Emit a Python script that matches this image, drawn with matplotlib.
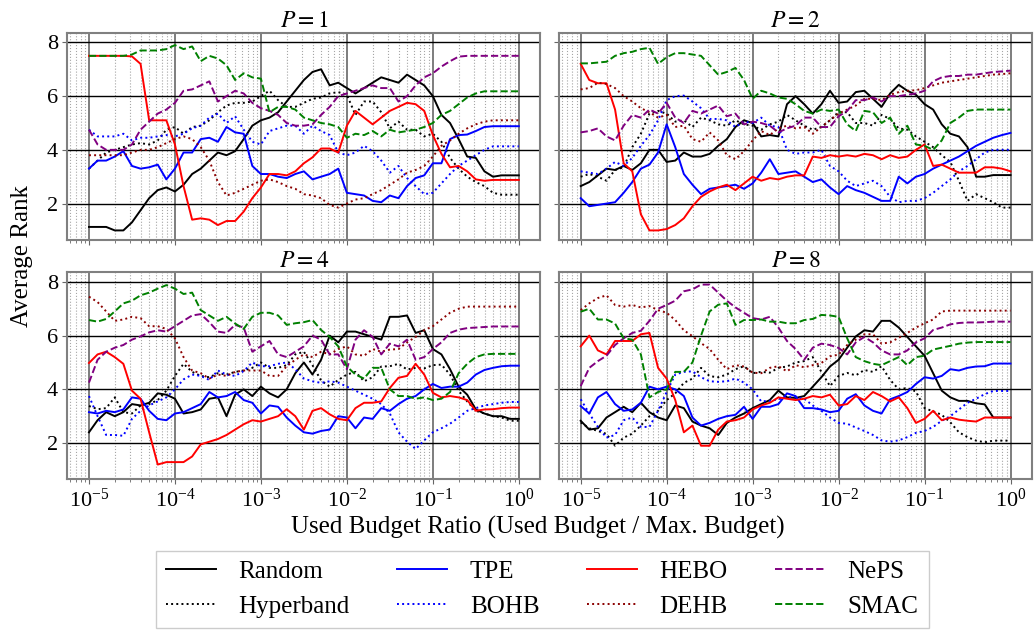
import numpy as np
import matplotlib
matplotlib.use("Agg")
from matplotlib import pyplot as plt

plt.rcParams['font.family'] = ['Liberation Serif', 'DejaVu Serif']
plt.rcParams['mathtext.fontset'] = 'stix'

# Budget ratio sampling grid (log10 from -5 to 0, step 0.1)
budget_ratio = np.logspace(-5, 0, 51)

methods = ['Random', 'Hyperband', 'TPE', 'BOHB', 'HEBO', 'DEHB', 'NePS', 'SMAC']
colors = ['black', 'black', 'blue', 'blue', 'red', 'darkred', 'purple', 'green']
styles = ['-', ':', '-', ':', '-', ':', '--', '--']
panel_titles = ['$P=1$', '$P=2$', '$P=4$', '$P=8$']

# ---- P = 1 ----
random_p1 = [1.13, 1.13, 1.13, 1.0, 1.0, 1.3, 1.75, 2.2, 2.5, 2.6, 2.45, 2.7, 3.1, 3.3, 3.6, 3.9, 3.8,
             3.95, 4.4, 4.9, 5.1, 5.2, 5.4, 5.8, 6.2, 6.6, 6.9, 7.0, 6.4, 6.5, 6.3, 6.1, 6.3, 6.5, 6.7,
             6.6, 6.5, 6.8, 6.6, 6.4, 6.0, 5.3, 5.0, 4.4, 3.75, 3.7, 3.2, 3.0, 3.05, 3.05, 3.05]
hyperband_p1 = [3.3, 3.6, 3.9, 4.0, 4.1, 4.2, 4.25, 4.2, 4.35, 4.75, 4.85, 4.6, 4.85, 4.9, 5.1, 5.4, 5.65,
                5.75, 5.75, 5.8, 6.0, 6.2, 5.85, 5.6, 5.6, 5.75, 5.9, 5.95, 6.1, 6.15, 6.05, 5.3, 5.8, 5.8,
                5.4, 4.8, 5.05, 4.75, 4.75, 4.5, 4.6, 4.3, 3.7, 3.3, 3.0, 2.8, 2.65, 2.4, 2.33, 2.33, 2.33]
tpe_p1 = [3.3, 3.6, 3.6, 3.75, 3.95, 3.4, 3.3, 3.35, 3.45, 2.9, 3.3, 3.9, 3.9, 4.4, 4.45, 4.3, 4.85,
          4.65, 4.6, 3.4, 3.1, 3.1, 3.0, 2.95, 3.1, 3.2, 2.9, 3.0, 3.1, 3.3, 2.4, 2.35, 2.3, 2.1, 2.05,
          2.3, 2.2, 2.65, 2.95, 3.05, 3.5, 3.5, 4.4, 4.55, 4.57, 4.7, 4.85, 4.88, 4.88, 4.88, 4.88]
bohb_p1 = [4.75, 4.5, 4.5, 4.5, 4.6, 4.35, 4.45, 4.45, 4.5, 4.55, 4.5, 4.6, 4.8, 4.9, 5.2, 5.35, 5.0,
           5.25, 4.75, 4.3, 4.2, 4.7, 4.8, 4.9, 4.9, 4.6, 4.9, 4.7, 4.55, 3.9, 3.8, 3.9, 4.15, 3.95,
           3.6, 3.15, 3.4, 2.95, 2.65, 2.35, 2.4, 2.75, 3.1, 3.4, 3.6, 3.8, 4.0, 4.13, 4.13, 4.13, 4.13]
hebo_p1 = [7.5, 7.5, 7.5, 7.5, 7.5, 7.48, 7.2, 5.1, 5.1, 5.1, 4.2, 2.65, 1.4, 1.45, 1.4, 1.2, 1.35,
           1.35, 1.7, 2.2, 2.6, 3.1, 3.1, 3.05, 3.2, 3.5, 3.72, 4.05, 4.05, 3.9, 4.9, 5.45, 5.2, 4.95,
           5.2, 5.45, 5.6, 5.75, 5.7, 5.45, 4.55, 3.85, 3.35, 3.4, 3.2, 2.9, 2.85, 2.88, 2.88, 2.88, 2.88]
dehb_p1 = [3.8, 3.8, 3.8, 3.8, 3.8, 3.9, 4.0, 4.0, 4.1, 4.25, 4.4, 4.5, 4.4, 4.1, 3.6, 2.8, 2.3,
           2.4, 2.55, 2.7, 2.85, 2.9, 2.8, 2.65, 2.55, 2.35, 2.3, 2.2, 1.95, 1.85, 2.0, 2.15, 2.2, 2.35,
           2.5, 2.7, 2.9, 3.15, 3.25, 3.4, 3.75, 4.15, 4.35, 4.6, 4.8, 4.95, 5.05, 5.1, 5.1, 5.1, 5.1]
neps_p1 = [4.75, 4.2, 4.0, 4.0, 4.0, 4.2, 4.75, 5.05, 5.35, 5.5, 5.75, 6.2, 6.25, 6.4, 6.55, 5.8, 6.0,
           6.2, 6.1, 5.75, 5.55, 5.45, 5.3, 5.0, 4.9, 4.9, 4.95, 5.3, 5.6, 6.0, 6.1, 6.2, 6.3, 6.4,
           6.3, 6.3, 5.8, 6.0, 6.4, 6.7, 6.85, 7.1, 7.3, 7.47, 7.5, 7.5, 7.5, 7.5, 7.5, 7.5, 7.5]
smac_p1 = [7.5, 7.5, 7.5, 7.5, 7.5, 7.55, 7.7, 7.7, 7.7, 7.75, 7.9, 7.75, 7.85, 7.3, 7.5, 7.4, 7.15,
           6.6, 6.85, 6.7, 6.65, 5.4, 5.6, 5.6, 5.5, 5.2, 5.1, 5.0, 4.95, 4.85, 4.45, 4.6, 4.55, 4.7,
           4.5, 4.75, 4.65, 4.7, 4.75, 4.85, 5.0, 5.3, 5.45, 5.7, 5.95, 6.1, 6.18, 6.18, 6.18, 6.18, 6.18]

# ---- P = 2 ----
random_p2 = [2.65, 2.8, 3.05, 3.3, 3.25, 3.4, 3.25, 3.5, 4.0, 4.0, 3.55, 3.6, 3.9, 3.75, 3.75, 3.85, 4.15,
             4.4, 4.85, 5.1, 5.0, 4.5, 4.55, 4.5, 5.7, 6.0, 5.7, 5.35, 5.7, 6.2, 5.75, 5.8, 6.15, 6.2,
             5.9, 5.6, 6.1, 6.42, 6.2, 6.05, 5.7, 5.5, 4.95, 4.6, 4.5, 4.1, 3.0, 3.0, 3.06, 3.06, 3.06]
hyperband_p2 = [3.0, 3.1, 3.0, 2.85, 3.25, 3.35, 4.1, 4.6, 5.35, 5.45, 5.35, 5.05, 5.1, 4.85, 5.2, 5.1, 4.95,
                4.9, 5.1, 4.95, 4.9, 4.75, 4.95, 5.05, 5.3, 5.1, 4.9, 4.75, 4.85, 5.1, 5.4, 5.4, 5.0, 5.0,
                4.9, 5.3, 5.15, 4.8, 4.75, 4.5, 4.3, 4.1, 3.8, 3.55, 2.85, 2.1, 2.35, 2.2, 2.05, 1.85, 1.85]
tpe_p2 = [2.2, 1.9, 1.95, 2.0, 2.05, 2.4, 2.8, 3.3, 3.45, 3.9, 4.95, 4.1, 3.1, 2.7, 2.35, 2.55, 2.6,
          2.65, 2.7, 2.55, 2.75, 3.15, 3.65, 3.1, 3.15, 3.2, 3.0, 2.8, 2.9, 2.6, 2.35, 2.65, 2.5, 2.4,
          2.25, 2.1, 2.1, 3.0, 2.75, 3.0, 3.1, 3.3, 3.45, 3.6, 3.75, 3.95, 4.15, 4.3, 4.45, 4.55, 4.63]
bohb_p2 = [3.2, 3.15, 3.1, 3.3, 3.55, 3.4, 3.7, 4.15, 4.55, 5.1, 5.85, 6.0, 6.02, 5.8, 5.55, 5.15, 5.15,
           5.1, 4.85, 5.05, 5.0, 5.2, 4.9, 4.85, 4.0, 3.85, 3.9, 3.9, 4.0, 3.4, 3.2, 2.85, 2.65, 2.75,
           2.85, 2.65, 2.25, 2.05, 2.1, 2.1, 2.2, 2.4, 2.65, 2.9, 3.2, 3.4, 3.65, 3.9, 4.0, 4.0, 4.0]
hebo_p2 = [7.2, 6.6, 6.48, 6.48, 5.5, 3.5, 3.2, 1.6, 1.0, 1.0, 1.05, 1.2, 1.45, 1.9, 2.25, 2.45, 2.6,
           2.7, 2.5, 2.75, 3.0, 2.85, 2.95, 2.9, 3.0, 3.05, 3.05, 3.75, 3.7, 3.8, 3.75, 3.8, 3.75, 3.85,
           3.8, 3.65, 3.8, 3.7, 3.75, 4.0, 4.2, 3.4, 3.45, 3.3, 3.15, 3.15, 3.15, 3.35, 3.35, 3.3, 3.2]
dehb_p2 = [6.25, 6.3, 6.5, 6.45, 6.3, 6.0, 5.8, 5.55, 5.4, 5.2, 5.3, 4.85, 4.9, 4.4, 4.3, 4.65, 4.35,
           3.8, 3.65, 3.95, 4.35, 4.7, 4.55, 4.8, 4.9, 4.8, 4.85, 4.6, 4.85, 5.1, 5.35, 5.5, 5.65, 5.9,
           5.9, 5.85, 6.05, 6.15, 6.2, 6.22, 6.3, 6.4, 6.5, 6.55, 6.6, 6.65, 6.7, 6.75, 6.8, 6.82, 6.85]
neps_p2 = [4.65, 4.7, 4.8, 4.5, 4.35, 4.9, 5.3, 5.2, 5.5, 5.35, 5.75, 5.2, 5.0, 5.45, 5.35, 5.5, 5.65,
           5.25, 5.35, 4.95, 5.05, 5.0, 4.9, 4.65, 4.8, 4.9, 5.2, 5.2, 4.85, 4.85, 5.25, 5.45, 5.85, 5.85,
           5.95, 5.8, 6.0, 6.0, 6.05, 6.1, 6.2, 6.55, 6.7, 6.75, 6.75, 6.8, 6.8, 6.85, 6.9, 6.92, 6.95]
smac_p2 = [7.22, 7.22, 7.25, 7.28, 7.5, 7.6, 7.65, 7.75, 7.8, 7.2, 7.45, 7.6, 7.6, 7.55, 7.5, 7.15, 6.8,
           6.9, 7.05, 6.6, 5.9, 6.2, 6.1, 5.95, 5.9, 5.7, 5.45, 5.35, 5.5, 5.45, 5.5, 4.95, 4.7, 5.45,
           5.4, 5.0, 5.2, 4.6, 4.9, 4.2, 4.15, 4.0, 4.35, 5.0, 5.2, 5.45, 5.5, 5.5, 5.5, 5.5, 5.5]

# ---- P = 4 ----
random_p4 = [2.4, 2.85, 3.15, 3.0, 3.15, 3.45, 3.4, 3.5, 3.85, 3.8, 3.65, 3.1, 3.15, 3.25, 3.65, 3.7, 3.0,
             3.8, 4.0, 3.75, 4.1, 3.85, 3.7, 4.0, 4.6, 5.0, 4.55, 5.1, 6.0, 5.75, 6.15, 6.15, 6.05, 5.95,
             5.85, 6.7, 6.7, 6.75, 6.1, 6.2, 5.5, 5.3, 4.75, 4.1, 3.8, 3.25, 3.1, 3.0, 3.0, 2.9, 2.9]
hyperband_p4 = [3.38, 3.26, 3.3, 3.7, 3.15, 3.1, 3.4, 3.45, 3.6, 3.95, 4.5, 4.95, 4.65, 4.5, 4.45, 4.6, 4.55,
                4.65, 4.7, 4.8, 5.0, 4.8, 4.8, 4.9, 5.3, 5.4, 4.9, 4.33, 4.1, 4.35, 4.55, 4.65, 4.3, 4.45,
                4.85, 4.86, 4.95, 4.74, 4.8, 4.78, 4.9, 4.92, 4.55, 3.95, 3.55, 3.2, 3.1, 3.0, 2.95, 2.83, 2.83]
tpe_p4 = [3.15, 3.1, 3.2, 3.15, 3.25, 3.7, 3.65, 3.2, 2.9, 2.85, 3.1, 3.15, 3.3, 3.45, 3.9, 3.7, 3.75,
          3.9, 3.6, 3.5, 3.1, 3.4, 3.35, 2.95, 2.65, 2.4, 2.35, 2.45, 2.5, 3.0, 2.95, 2.55, 2.95, 2.9,
          3.3, 3.2, 3.45, 3.65, 3.75, 4.0, 4.2, 4.05, 4.1, 4.1, 4.25, 4.55, 4.72, 4.8, 4.86, 4.88, 4.88]
bohb_p4 = [3.75, 3.0, 2.3, 2.3, 2.27, 2.9, 3.2, 3.4, 3.55, 3.7, 4.0, 4.37, 4.55, 4.5, 4.35, 4.7, 4.55,
           4.5, 4.68, 5.0, 4.86, 4.86, 4.95, 5.0, 4.75, 4.4, 4.3, 4.24, 4.3, 4.25, 4.1, 3.95, 3.8, 3.65,
           3.45, 3.1, 2.4, 2.05, 1.78, 2.1, 2.4, 2.55, 2.72, 2.95, 3.2, 3.3, 3.4, 3.45, 3.5, 3.53, 3.53]
hebo_p4 = [4.98, 5.3, 5.4, 5.2, 4.95, 3.95, 3.65, 2.4, 1.2, 1.29, 1.29, 1.29, 1.5, 1.95, 2.05, 2.15, 2.3,
           2.5, 2.7, 2.85, 2.8, 2.9, 3.0, 3.26, 3.0, 2.5, 3.2, 3.3, 3.07, 2.9, 2.85, 3.3, 3.5, 3.5,
           3.55, 4.05, 4.43, 4.5, 4.95, 4.55, 3.87, 3.7, 3.75, 3.7, 3.6, 3.2, 3.25, 3.26, 3.3, 3.32, 3.32]
dehb_p4 = [7.45, 7.25, 6.9, 6.55, 6.6, 6.7, 6.65, 6.35, 6.35, 6.25, 5.9, 5.2, 4.7, 4.6, 4.4, 4.55, 4.5,
           4.65, 4.7, 4.7, 4.7, 4.5, 4.5, 4.86, 5.1, 5.3, 5.2, 5.4, 5.3, 5.5, 5.6, 5.3, 5.25, 5.5,
           5.4, 5.48, 5.5, 5.75, 5.95, 6.2, 6.35, 6.6, 6.85, 7.0, 7.08, 7.08, 7.08, 7.08, 7.08, 7.08, 7.08]
neps_p4 = [4.25, 5.1, 5.4, 5.55, 5.65, 5.85, 5.97, 6.12, 6.2, 6.15, 6.35, 6.55, 6.75, 6.8, 6.5, 6.15, 6.1,
           6.4, 6.3, 5.4, 5.6, 5.8, 5.3, 5.2, 5.4, 5.6, 6.0, 5.85, 5.3, 5.3, 4.75, 5.85, 6.2, 5.95,
           5.3, 5.7, 5.6, 5.85, 5.1, 5.2, 5.5, 5.75, 6.1, 6.22, 6.28, 6.3, 6.32, 6.34, 6.34, 6.34, 6.34]
smac_p4 = [6.58, 6.52, 6.62, 6.9, 7.2, 7.3, 7.5, 7.6, 7.75, 7.88, 7.75, 7.55, 7.6, 6.95, 6.75, 6.55, 6.7,
           6.45, 6.25, 6.7, 6.85, 6.85, 6.75, 6.4, 6.46, 6.5, 6.58, 6.21, 5.95, 5.6, 4.85, 4.55, 4.4, 4.8,
           4.8, 4.0, 3.75, 3.75, 3.65, 3.7, 3.6, 3.65, 3.9, 4.6, 4.95, 5.2, 5.3, 5.32, 5.32, 5.32, 5.32]

# ---- P = 8 ----
random_p8 = [2.83, 2.5, 2.55, 2.95, 3.15, 3.35, 3.15, 3.5, 3.15, 2.95, 2.85, 3.4, 3.3, 2.8, 2.65, 2.55, 2.3,
             2.75, 2.95, 3.1, 3.3, 3.45, 3.6, 3.95, 3.7, 3.68, 3.75, 4.1, 4.45, 4.85, 5.1, 5.55, 5.97, 6.2,
             6.15, 6.55, 6.55, 6.3, 5.95, 5.6, 5.25, 4.6, 3.95, 3.7, 3.57, 3.57, 3.48, 3.44, 2.95, 2.95, 2.95]
hyperband_p8 = [2.77, 2.55, 2.45, 2.34, 1.9, 2.2, 2.35, 2.65, 3.0, 3.2, 3.6, 3.85, 4.24, 4.4, 4.8, 4.49, 4.45,
                4.55, 4.75, 4.86, 4.6, 4.65, 4.62, 4.8, 4.85, 5.0, 5.05, 5.2, 4.65, 4.12, 4.5, 4.61, 4.52, 4.72,
                4.65, 4.86, 4.35, 4.0, 4.05, 3.92, 3.3, 3.18, 3.05, 2.77, 2.4, 2.22, 2.09, 2.03, 2.09, 2.09, 2.09]
tpe_p8 = [3.38, 3.1, 3.7, 3.9, 3.45, 3.2, 3.25, 3.5, 4.1, 4.0, 4.1, 4.0, 3.75, 2.95, 2.65, 2.75, 2.9,
          3.0, 3.05, 3.35, 2.9, 3.35, 3.35, 3.45, 3.85, 3.75, 3.3, 3.3, 3.25, 3.15, 3.2, 3.65, 3.82, 3.4,
          3.2, 3.1, 3.63, 3.75, 3.9, 4.2, 4.45, 4.4, 4.5, 4.75, 4.7, 4.8, 4.85, 4.86, 4.96, 4.96, 4.96]
bohb_p8 = [3.63, 3.1, 2.6, 2.2, 2.3, 2.85, 2.95, 2.6, 2.6, 3.2, 3.9, 4.55, 4.65, 4.67, 4.45, 4.3, 4.28,
           4.3, 4.4, 4.25, 4.0, 3.55, 3.57, 3.63, 3.7, 3.72, 3.65, 3.4, 3.2, 2.95, 2.75, 2.72, 2.58, 2.45,
           2.3, 2.1, 2.05, 2.1, 2.22, 2.38, 2.45, 2.6, 2.83, 3.0, 3.25, 3.5, 3.65, 3.82, 3.94, 3.94, 3.94]
hebo_p8 = [5.6, 6.0, 5.45, 5.3, 5.8, 5.8, 5.8, 6.05, 6.1, 4.8, 4.4, 3.6, 2.4, 2.65, 1.9, 1.9, 2.5,
           2.8, 2.85, 2.95, 3.25, 3.4, 3.5, 3.7, 3.65, 3.6, 3.65, 3.75, 3.7, 3.8, 3.4, 3.45, 3.75, 3.6,
           3.9, 3.75, 3.55, 3.7, 3.3, 2.75, 2.9, 3.2, 2.85, 2.95, 2.87, 2.83, 2.8, 2.95, 2.95, 2.95, 2.95]
dehb_p8 = [6.95, 7.2, 7.4, 7.5, 7.14, 7.08, 7.14, 7.05, 7.1, 6.95, 6.85, 6.58, 6.2, 5.98, 5.72, 5.5, 5.1,
           4.75, 4.9, 4.85, 4.62, 4.6, 4.8, 4.86, 4.67, 4.9, 4.82, 4.9, 4.98, 5.23, 5.29, 5.65, 5.85, 6.05,
           6.05, 5.7, 5.75, 5.92, 6.1, 6.3, 6.46, 6.6, 6.9, 6.93, 6.93, 6.93, 6.93, 6.93, 6.93, 6.93, 6.93]
neps_p8 = [4.12, 4.8, 5.05, 5.25, 5.65, 5.9, 6.1, 6.18, 6.55, 7.0, 7.14, 7.3, 7.65, 7.72, 7.9, 7.9, 7.6,
           7.3, 7.05, 6.85, 6.65, 6.6, 6.7, 6.3, 5.8, 5.5, 5.1, 5.55, 5.7, 5.65, 5.54, 5.3, 5.75, 5.95,
           5.75, 5.45, 5.3, 5.3, 5.45, 5.75, 5.9, 6.21, 6.3, 6.42, 6.47, 6.49, 6.49, 6.5, 6.52, 6.52, 6.52]
smac_p8 = [6.89, 7.0, 6.6, 6.6, 6.45, 5.9, 5.85, 5.3, 3.7, 3.9, 4.0, 4.65, 4.65, 5.0, 6.0, 6.9, 7.15,
           7.2, 6.4, 6.58, 6.58, 6.6, 6.52, 6.52, 6.46, 6.46, 6.58, 6.62, 6.77, 6.75, 6.7, 5.9, 5.2, 5.05,
           4.95, 4.9, 5.05, 5.2, 4.9, 5.2, 5.25, 5.48, 5.55, 5.62, 5.7, 5.74, 5.76, 5.76, 5.76, 5.76, 5.76]

panels = [
    [random_p1, hyperband_p1, tpe_p1, bohb_p1, hebo_p1, dehb_p1, neps_p1, smac_p1],
    [random_p2, hyperband_p2, tpe_p2, bohb_p2, hebo_p2, dehb_p2, neps_p2, smac_p2],
    [random_p4, hyperband_p4, tpe_p4, bohb_p4, hebo_p4, dehb_p4, neps_p4, smac_p4],
    [random_p8, hyperband_p8, tpe_p8, bohb_p8, hebo_p8, dehb_p8, neps_p8, smac_p8],
]

fig, axes = plt.subplots(2, 2, sharex=True, sharey=True, figsize=(10.35, 6.3), dpi=100)
fig.subplots_adjust(left=0.0652, right=0.9971, top=0.9476, bottom=0.2392, wspace=0.04, hspace=0.158)

for ax, title, series in zip(axes.flat, panel_titles, panels):
    for name, vals, c, ls in zip(methods, series, colors, styles):
        ax.plot(budget_ratio, vals, color=c, linestyle=ls, linewidth=1.4, label=name)
    ax.set_xscale('log')
    ax.set_title(title, fontsize=17, pad=4)
    ax.grid(which='major', axis='y', color='black', linewidth=1.0)
    ax.grid(which='major', axis='x', color='0.45', linewidth=1.3)
    ax.grid(which='minor', axis='x', color='0.65', linestyle=':', linewidth=0.8)
    ax.set_axisbelow(True)
    for sp in ax.spines.values():
        sp.set_color('0.5')
        sp.set_linewidth(1.5)
    ax.tick_params(which='both', color='0.4', labelsize=16)

axes[0, 0].set_xlim(10 ** -5.25, 10 ** 0.25)
axes[0, 0].set_ylim(0.65, 8.35)
axes[0, 0].set_yticks([2, 4, 6, 8])

fig.text(0.021, 0.594, 'Average Rank', rotation=90, ha='center', va='center', fontsize=18)
fig.text(0.52, 0.163, 'Used Budget Ratio (Used Budget / Max. Budget)', ha='center', va='center', fontsize=18)

handles, labels = axes[0, 0].get_legend_handles_labels()
fig.legend(handles, labels, loc='upper center', bbox_to_anchor=(0.524, 0.146), ncol=4,
           fontsize=18, handlelength=2.0, handletextpad=0.9, columnspacing=1.9,
           fancybox=False, edgecolor='0.8', framealpha=1)

fig.savefig('out.png', dpi=100)
